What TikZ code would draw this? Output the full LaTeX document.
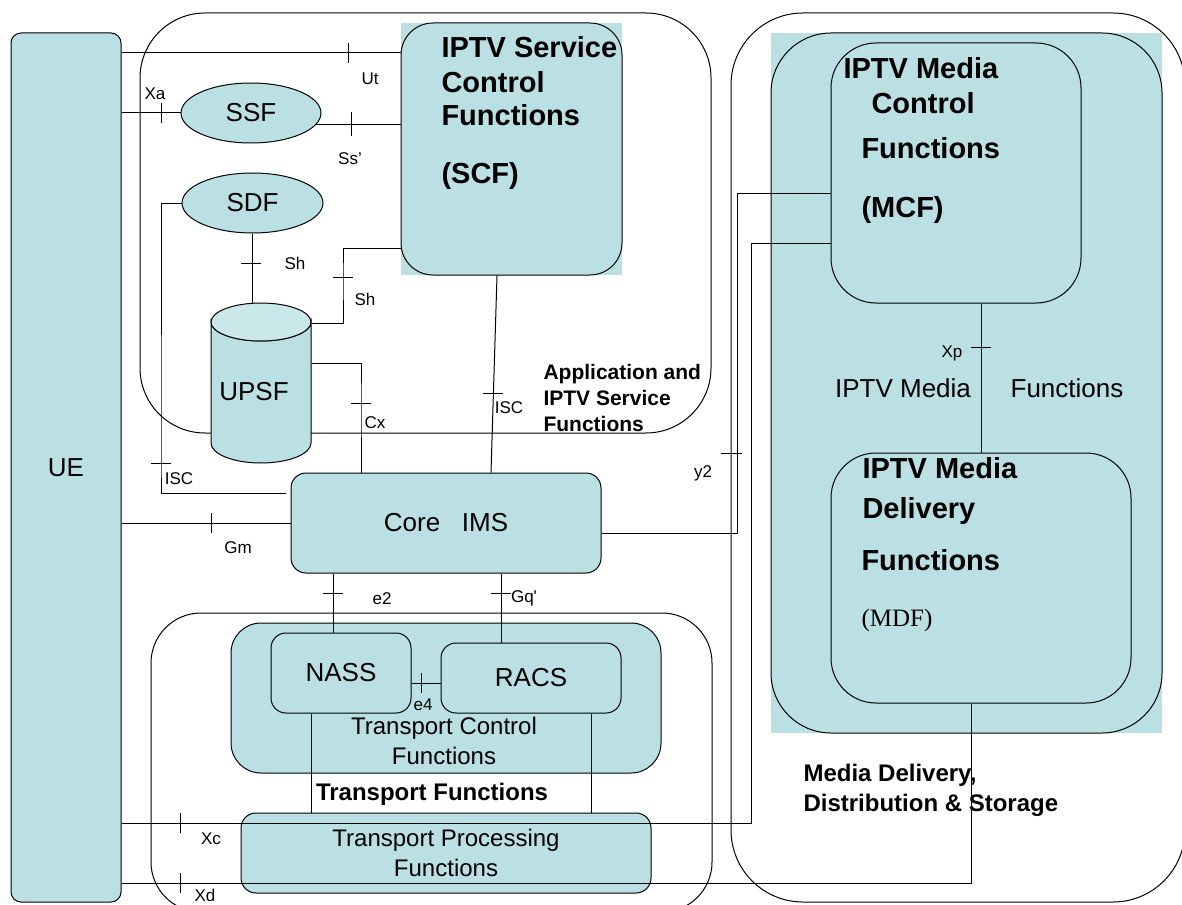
\documentclass[tikz,border=0pt]{standalone}
\usepackage{fontspec}
\setmainfont{Liberation Sans}
\newfontfamily\timesfont{Liberation Serif}
\usepackage{tikz}
\usetikzlibrary{shapes.geometric}

\definecolor{ipblue}{RGB}{187,224,227}
\definecolor{iplight}{RGB}{202,231,233}
\newcommand{\vtick}[2][10]{\draw (#2) ++(0,-#1) -- ++(0,2*#1);}
\newcommand{\htick}[1]{\draw (#1) ++(-10,0) -- ++(20,0);}

\begin{document}
\begin{tikzpicture}[x=1pt, y=-1pt, line width=1pt,
	blk/.style={draw, fill=ipblue, inner sep=0pt, rounded corners=#1},
	blk/.default=15pt,
	frm/.style={draw, inner sep=0pt, rounded corners=#1},
	bg/.style={fill=ipblue, inner sep=0pt},
	oval/.style={ellipse, draw, fill=ipblue, inner sep=0pt},
	txt/.style={font=\fontsize{26}{30}\selectfont, align=center},
	hd/.style={font=\bfseries\fontsize{29}{34}\selectfont, anchor=west, inner sep=0pt, text depth=0pt},
	lbl/.style={font=\fontsize{17}{20}\selectfont, inner sep=0pt},
	sect/.style={font=\bfseries\fontsize{21}{26}\selectfont, align=left, anchor=west, inner sep=0pt}]

	\useasboundingbox (0,0) rectangle (1182,904);
	\clip (0,0) rectangle (1182,904);

	\node[frm=65pt, minimum width=571pt, minimum height=420pt] (appf) at (425.5,223) {};
	\node[frm=50pt, minimum width=561pt, minimum height=299pt] (trf) at (431.5,762.5) {};
	\node[frm=72pt, minimum width=454pt, minimum height=889pt] (mdsf) at (958,457.5) {};

	\node[bg, minimum width=391pt, minimum height=700pt] (mediabg) at (966.5,383) {};
	\node[blk=60pt, minimum width=391pt, minimum height=700pt] (media) at (mediabg) {};
	\node[blk=45pt, minimum width=250pt, minimum height=260pt] (mcf) at (956,173) {};
	\node[blk=45pt, minimum width=300pt, minimum height=250pt] (mdf) at (981,578) {};

	\node[blk=10pt, txt, minimum width=110pt, minimum height=869pt] (ue) at (66,467.5) {UE};
	\node[bg, minimum width=221pt, minimum height=252pt] (scfbg) at (511.5,149) {};
	\node[blk=32pt, minimum width=221pt, minimum height=252pt] (scf) at (scfbg) {};
	\node[oval, txt, minimum width=140pt, minimum height=60pt] (ssf) at (251,113) {SSF};
	\node[oval, txt, minimum width=141pt, minimum height=60pt] (sdf) at (252.5,203) {SDF};

	\draw[fill=ipblue] (211,322) -- (211,443) arc (180:0:50 and 20) -- (311,322) arc (0:180:50 and 19) -- cycle;
	\draw[fill=iplight] (261,322) ellipse (50 and 19);
	\node[minimum width=100pt, minimum height=160pt, inner sep=0pt] (upsf) at (261,383) {};
	\node[txt] (upsftxt) at (254,392) {UPSF};

	\node[blk, txt, minimum width=310pt, minimum height=100pt] (core) at (446,523) {Core\ \ \ IMS};
	\node[blk=30pt, minimum width=430pt, minimum height=150pt] (tcf) at (446,698) {};
	\node[blk, txt, minimum width=140pt, minimum height=80pt] (nass) at (341,673) {NASS};
	\node[blk, txt, minimum width=180pt, minimum height=70pt] (racs) at (531,678) {RACS};
	\node[blk, minimum width=410pt, minimum height=80pt, font=\fontsize{24}{30}\selectfont, align=center] (tpf) at (446,853) {Transport Processing\\Functions};
	\node[font=\fontsize{24}{30}\selectfont, align=center] (tcftxt) at (444,741) {Transport Control\\Functions};

	\coordinate (ut) at (348,53);
	\coordinate (xa) at (161,113);
	\coordinate (ss) at (351,124);
	\coordinate (sha) at (251,263);
	\coordinate (shb) at (343,277);
	\coordinate (cx) at (361,403);
	\coordinate (isca) at (493,393);
	\coordinate (iscb) at (161,463);
	\coordinate (iscend) at (286,493);
	\coordinate (gm) at (211,523);
	\coordinate (e2) at (333,593);
	\coordinate (gq) at (501,593);
	\coordinate (e4) at (421,683);
	\coordinate (y2) at (737,453);
	\coordinate (xp) at (981,347);
	\coordinate (xc) at (180,823);
	\coordinate (xcturn) at (751,243);
	\coordinate (xd) at (180,883);

	\draw (ue.east |- ut) -- (scf.west |- ut);
	\draw (ue.east |- xa) -- (ssf.west);
	\draw (ssf.-10) -- (scf.west |- ssf.-10);
	\draw (sdf.west) -| (iscb) |- (iscend);
	\draw (sdf.south) -- (sdf.south |- upsf.north);
	\draw (upsf.east |- 0,323) -| (shb) |- (scf.west |- 0,248);
	\draw (upsf.east |- 0,363) -| (cx) -- (cx |- core.north);
	\draw (scf.south -| 497,0) -- (core.north -| 491,0);
	\draw (ue.east |- core.west) -- (core.west);
	\draw ([yshift=-10pt]core.east) -| (y2) |- (mcf.west |- 0,193);
	\draw (ue.east |- xc) -| (xcturn) -- (mcf.west |- xcturn);
	\draw (ue.east |- xd) -| (mdf.south -| 971,0);
	\draw (core.south -| e2) -- (nass.north -| e2);
	\draw (core.south -| gq) -- (racs.north -| gq);
	\draw (nass.east |- e4) -- (racs.west |- e4);
	\draw (nass.south -| 311,0) -- (tpf.north -| 311,0);
	\draw (racs.south -| 591,0) -- (tpf.north -| 591,0);
	\draw (mcf.south -| xp) -- (mdf.north -| xp);

	\vtick{ut}
	\vtick{xa}
	\vtick[12]{ss}
	\htick{sha}
	\htick{shb}
	\htick{cx}
	\htick{isca}
	\htick{iscb}
	\vtick{gm}
	\htick{e2}
	\htick{gq}
	\vtick{e4}
	\draw (y2) ++(-16,0) -- ++(21,0);
	\htick{xp}
	\vtick{xc}
	\vtick{xd}

	\node[hd] (scfa) at (441,47) {IPTV Service};
	\node[hd] (scfb) at (441,82) {Control};
	\node[hd] (scfc) at (441,115) {Functions};
	\node[hd] (scfd) at (441,173) {(SCF)};

	\node[hd] (mcfa) at (843,68) {IPTV Media};
	\node[hd] (mcfb) at (871,103) {Control};
	\node[hd] (mcfc) at (861,148) {Functions};
	\node[hd] (mcfd) at (861,207) {(MCF)};

	\node[hd] (mdfa) at (862,468) {IPTV Media};
	\node[hd] (mdfb) at (862,508) {Delivery};
	\node[hd] (mdfc) at (861,560) {Functions};
	\node[hd, font=\timesfont\fontsize{25}{30}\selectfont] (mdfd) at (861,618) {(MDF)};

	\node[txt] (imfa) at (903,388) {IPTV Media};
	\node[txt] (imfb) at (1067,388) {Functions};

	\node[sect] (appl) at (543,398) {Application and\\IPTV Service\\Functions};
	\node[sect, font=\bfseries\fontsize{24}{30}\selectfont] (mdsl) at (803,790) {Media Delivery,\\Distribution \& Storage};
	\node[font=\bfseries\fontsize{24}{28}\selectfont, inner sep=0pt] (trfl) at (432,794) {Transport Functions};

	\node[lbl] (utl) at (370,79) {Ut};
	\node[lbl] (xal) at (155,94) {Xa};
	\node[lbl] (ssl) at (350,159) {Ss’};
	\node[lbl] (shal) at (295,263) {Sh};
	\node[lbl] (shbl) at (365,299) {Sh};
	\node[lbl] (cxl) at (375,423) {Cx};
	\node[lbl] (iscal) at (509,408) {ISC};
	\node[lbl] (iscbl) at (179,479) {ISC};
	\node[lbl] (gml) at (238,548) {Gm};
	\node[lbl] (e2l) at (382,599) {e2};
	\node[lbl] (gql) at (524,598) {Gq\textquotesingle};
	\node[lbl] (e4l) at (423,705) {e4};
	\node[lbl] (y2l) at (703,473) {y2};
	\node[lbl] (xpl) at (952,353) {Xp};
	\node[lbl] (xcl) at (211,839) {Xc};
	\node[lbl] (xdl) at (205,895) {Xd};

\end{tikzpicture}
\end{document}
